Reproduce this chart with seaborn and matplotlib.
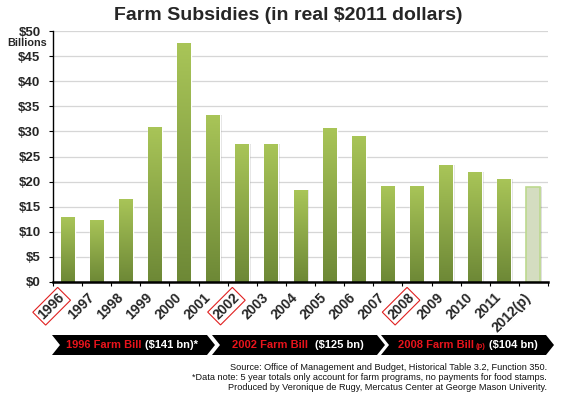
import numpy as np
import matplotlib
matplotlib.use("Agg")
import matplotlib.pyplot as plt
from matplotlib.colors import LinearSegmentedColormap
from matplotlib.patches import Polygon
import seaborn as sns

# data (billions, real 2011 dollars)
years = ["1996", "1997", "1998", "1999", "2000", "2001", "2002", "2003", "2004",
         "2005", "2006", "2007", "2008", "2009", "2010", "2011", "2012(p)"]
subsidies = [12.9, 12.4, 16.6, 30.9, 47.6, 33.3, 27.5, 27.5, 18.3,
             30.7, 29.1, 19.1, 19.2, 23.3, 22.0, 20.6, 18.9]
boxed_years = ["1996", "2002", "2008"]
yticks = [0, 5, 10, 15, 20, 25, 30, 35, 40, 45, 50]

bills = ["1996 Farm Bill", "2002 Farm Bill", "2008 Farm Bill"]
bill_totals = ["($141 bn)*", "($125 bn)", "($104 bn)"]
source_lines = [
    "Source: Office of Management and Budget, Historical Table 3.2, Function 350.",
    "*Data note: 5 year totals only account for farm programs, no payments for food stamps.",
    "Produced by Veronique de Rugy, Mercatus Center at George Mason Univerity.",
]

sns.set_style("white")
plt.rcParams["font.family"] = ["Liberation Sans", "DejaVu Sans"]

W, H = 580, 397
fig = plt.figure(figsize=(W / 100, H / 100), dpi=100)
ax = fig.add_axes([53 / W, 1 - 282 / H, 495 / W, 251 / H])


def px(x, y):
    # figure pixel coords (from top-left) -> figure fraction
    return x / W, 1 - y / H


# ===== BARS =====
sns.barplot(x=years, y=subsidies, color="#8aa744", width=0.48, ax=ax,
            saturation=1, zorder=2)

grad = LinearSegmentedColormap.from_list("g", ["#6d8836", "#a9c558"])
img = np.linspace(0, 1, 256).reshape(-1, 1)
for i, p in enumerate(ax.patches):
    x0, w, h = p.get_x(), p.get_width(), p.get_height()
    # faint drop shadow
    ax.bar(x0 + w / 2 + 0.05, h, width=w, color="#000000", alpha=0.12,
           zorder=1.5, linewidth=0)
    if i == len(years) - 1:
        p.set_facecolor("#d4ddc0")
        p.set_edgecolor("#bcd98e")
        p.set_linewidth(1.2)
        continue
    im = ax.imshow(img, extent=[x0, x0 + w, 0, h], origin="lower",
                   cmap=grad, aspect="auto", zorder=2.1)
    im.set_clip_path(p)

ax.set_xlim(-0.5, len(years) - 0.5)
ax.set_ylim(0, 50)

# ===== AXES STYLE =====
ax.yaxis.grid(True, color="#d6d6d6", linewidth=0.9)
ax.set_axisbelow(True)
for s in ["top", "right"]:
    ax.spines[s].set_visible(False)
ax.spines["left"].set_color("black")
ax.spines["left"].set_linewidth(1.0)
ax.spines["bottom"].set_color("black")
ax.spines["bottom"].set_linewidth(1.8)

ax.set_yticks(yticks)
ax.set_yticklabels(["$" + str(v) for v in yticks], fontsize=9.5,
                   fontweight="bold")
ax.tick_params(axis="y", length=3, width=0.8, pad=6, color="black", left=True)

ax.set_xticks(range(len(years)))
ax.set_xticklabels(years, rotation=45, ha="right", fontsize=10,
                   fontweight="bold")
ax.tick_params(axis="x", length=0, pad=6)
ax.set_xticks(np.arange(len(years) + 1) - 0.5, minor=True)
ax.tick_params(axis="x", which="minor", length=3, width=0.8, color="black",
               bottom=True)
for lab in ax.get_xticklabels():
    if lab.get_text() in boxed_years:
        lab.set_bbox(dict(boxstyle="square,pad=0.15", fc="white", ec="#e02020",
                          lw=0.8))
ax.set_xlabel("")
ax.set_ylabel("")

fig.text(*px(47, 43), "Billions", ha="right", va="center", fontsize=7.8,
         fontweight="bold")

# ===== TITLE =====
fig.text(*px(288, 15), "Farm Subsidies (in real $2011 dollars)", ha="center",
         va="center", fontsize=14, fontweight="bold")

# ===== FARM BILL BANNERS =====
banners = [(52, 207), (212, 377), (381, 546)]
top, bot, mid = 335, 355, 345
for left, right in banners:
    pts = [px(left, top), px(right, top), px(right + 8, mid), px(right, bot),
           px(left, bot), px(left + 8, mid)]
    fig.patches.append(Polygon(pts, closed=True, transform=fig.transFigure,
                               fc="black", ec="none"))

red = "#e8141c"
fig.text(*px(142, mid), bills[0], ha="right", va="center", color=red,
         fontsize=8, fontweight="bold")
fig.text(*px(145, mid), bill_totals[0], ha="left", va="center", color="white",
         fontsize=8, fontweight="bold")
fig.text(*px(308, mid), bills[1], ha="right", va="center", color=red,
         fontsize=8, fontweight="bold")
fig.text(*px(315, mid), bill_totals[1], ha="left", va="center", color="white",
         fontsize=8, fontweight="bold")
fig.text(*px(474, mid), bills[2], ha="right", va="center", color=red,
         fontsize=8, fontweight="bold")
fig.text(*px(476, mid + 1), "(p)", ha="left", va="center", color=red,
         fontsize=5.5, fontweight="bold")
fig.text(*px(489, mid), bill_totals[2], ha="left", va="center", color="white",
         fontsize=8, fontweight="bold")

# ===== SOURCE NOTE =====
for k, line in enumerate(source_lines):
    fig.text(*px(547, 367 + 10.5 * k), line, ha="right", va="center",
             fontsize=6.6, color="#111111")

fig.savefig("out.png", dpi=100)
